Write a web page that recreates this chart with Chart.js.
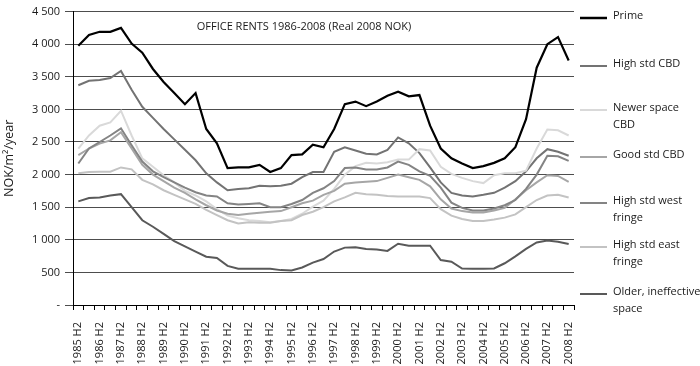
<!DOCTYPE html>
<html>
<head>
<meta charset="utf-8">
<title>Office rents 1986-2008</title>
<script src="https://cdn.jsdelivr.net/npm/chart.js@4.4.0/dist/chart.umd.min.js"></script>
<style>
    html, body { margin: 0; padding: 0; background: #fff; }
    #wrap { width: 700px; height: 366px; }
</style>
</head>
<body>
<div id="wrap"><canvas id="rentChart" width="700" height="366"></canvas></div>
<script>
// half-year periods, only the H2 ones get a label on the axis
const periods = [
    '1985 H2',
    '1986 H1', '1986 H2', '1987 H1', '1987 H2', '1988 H1', '1988 H2',
    '1989 H1', '1989 H2', '1990 H1', '1990 H2', '1991 H1', '1991 H2',
    '1992 H1', '1992 H2', '1993 H1', '1993 H2', '1994 H1', '1994 H2',
    '1995 H1', '1995 H2', '1996 H1', '1996 H2', '1997 H1', '1997 H2',
    '1998 H1', '1998 H2', '1999 H1', '1999 H2', '2000 H1', '2000 H2',
    '2001 H1', '2001 H2', '2002 H1', '2002 H2', '2003 H1', '2003 H2',
    '2004 H1', '2004 H2', '2005 H1', '2005 H2', '2006 H1', '2006 H2',
    '2007 H1', '2007 H2', '2008 H1', '2008 H2'
];

const chartTitle = 'OFFICE RENTS 1986-2008 (Real 2008 NOK)';
const yTitle = 'NOK/m\u00b2/year';
const yTicks = [0, 500, 1000, 1500, 2000, 2500, 3000, 3500, 4000, 4500];

const seriesNames = [
    ['Prime'],
    ['High std CBD'],
    ['Newer space', 'CBD'],
    ['Good std CBD'],
    ['High std west', 'fringe'],
    ['High std east', 'fringe'],
    ['Older, ineffective', 'space']
];

const prime = [3975, 4140, 4190, 4190, 4250, 4010, 3870, 3620, 3420, 3250,
    3080, 3250, 2700, 2480, 2100, 2110, 2110, 2150, 2040, 2100,
    2300, 2310, 2460, 2420, 2700, 3080, 3120, 3050, 3120, 3210,
    3270, 3200, 3220, 2750, 2400, 2250, 2170, 2100, 2130, 2180,
    2250, 2420, 2850, 3640, 4000, 4110, 3750];

const highStdCbd = [3370, 3440, 3450, 3480, 3590, 3300, 3040, 2870, 2700, 2540,
    2380, 2220, 2020, 1880, 1760, 1780, 1790, 1830, 1820, 1830,
    1860, 1960, 2040, 2040, 2350, 2420, 2370, 2320, 2310, 2380,
    2570, 2480, 2330, 2110, 1880, 1720, 1680, 1665, 1690, 1720,
    1800, 1900, 2050, 2250, 2390, 2350, 2290];

const newerSpaceCbd = [2400, 2600, 2750, 2800, 2980, 2600, 2250, 2120, 1990, 1880,
    1750, 1680, 1590, 1470, 1370, 1330, 1300, 1290, 1270, 1290,
    1320, 1400, 1510, 1600, 1780, 2000, 2130, 2180, 2170, 2190,
    2230, 2230, 2390, 2370, 2120, 2010, 1950, 1900, 1870, 1990,
    2020, 2020, 2060, 2400, 2690, 2680, 2600];

const goodStdCbd = [2300, 2400, 2475, 2525, 2650, 2400, 2150, 2000, 1900, 1800,
    1720, 1620, 1530, 1450, 1400, 1380, 1400, 1415, 1430, 1440,
    1500, 1560, 1600, 1690, 1750, 1860, 1880, 1890, 1900, 1950,
    2000, 1960, 1920, 1820, 1620, 1480, 1440, 1420, 1420, 1450,
    1490, 1620, 1760, 1880, 1990, 1980, 1890];

const westFringe = [2170, 2400, 2500, 2600, 2710, 2450, 2200, 2050, 1960, 1880,
    1800, 1730, 1680, 1665, 1560, 1540, 1550, 1560, 1500, 1500,
    1550, 1610, 1720, 1790, 1900, 2100, 2110, 2080, 2080, 2110,
    2200, 2150, 2050, 1980, 1800, 1570, 1490, 1450, 1450, 1480,
    1530, 1610, 1780, 2000, 2290, 2280, 2210];

const eastFringe = [2020, 2040, 2045, 2045, 2110, 2080, 1920, 1850, 1760, 1690,
    1620, 1550, 1460, 1380, 1300, 1250, 1270, 1260, 1260, 1290,
    1300, 1380, 1430, 1500, 1590, 1650, 1720, 1700, 1690, 1670,
    1665, 1665, 1665, 1640, 1470, 1370, 1320, 1290, 1290, 1310,
    1340, 1390, 1500, 1610, 1680, 1690, 1650];

const olderSpace = [1590, 1640, 1650, 1680, 1700, 1500, 1300, 1200, 1090, 980,
    900, 820, 740, 720, 600, 555, 555, 555, 555, 535,
    530, 575, 650, 705, 820, 880, 885, 860, 850, 830,
    940, 910, 910, 910, 690, 665, 560, 555, 555, 560,
    640, 745, 860, 960, 990, 970, 935];

const seriesValues = [prime, highStdCbd, newerSpaceCbd, goodStdCbd, westFringe, eastFringe, olderSpace];
const seriesColors = ['#000000', '#737373', '#d9d9d9', '#a6a6a6', '#848484', '#c3c3c3', '#595959'];

const fontFamily = '"Open Sans", "DejaVu Sans", sans-serif';

function spaced(value) {
    if (value === 0) return '-';
    return String(value).replace(/\B(?=(\d{3})+(?!\d))/g, ' ');
}

// title inside the plot and the legend at the right, drawn by hand
const decorPlugin = {
    id: 'decor',
    afterDraw: function(chart) {
        const ctx = chart.ctx;
        ctx.save();
        ctx.fillStyle = '#1a1a1a';
        ctx.font = '11px ' + fontFamily;
        ctx.textAlign = 'center';
        ctx.textBaseline = 'middle';
        ctx.fillText(chartTitle, 304, 27);

        const legendY = [16, 64, 108, 155, 201, 245, 292];
        ctx.textAlign = 'left';
        chart.data.datasets.forEach(function(ds, i) {
            const y = legendY[i];
            ctx.strokeStyle = ds.borderColor;
            ctx.lineWidth = i === 0 ? 2.5 : 2;
            ctx.beginPath();
            ctx.moveTo(580, y + 2);
            ctx.lineTo(607, y + 2);
            ctx.stroke();
            seriesNames[i].forEach(function(line, k) {
                ctx.fillText(line, 613, y + k * 17);
            });
        });
        ctx.restore();
    }
};

const datasets = seriesValues.map(function(values, i) {
    return {
        label: seriesNames[i].join(' '),
        data: values,
        borderColor: seriesColors[i],
        backgroundColor: seriesColors[i],
        borderWidth: i === 0 ? 2.2 : 2,
        pointRadius: 0,
        tension: 0,
        fill: false,
        order: seriesValues.length - i
    };
});

const ctx = document.getElementById('rentChart').getContext('2d');
const rentChart = new Chart(ctx, {
    type: 'line',
    data: {
        labels: periods,
        datasets: datasets
    },
    options: {
        responsive: false,
        animation: false,
        layout: {
            padding: { top: 8, right: 126, left: 0, bottom: 0 }
        },
        plugins: {
            legend: { display: false },
            tooltip: { enabled: false },
            title: { display: false }
        },
        scales: {
            x: {
                type: 'category',
                offset: true,
                afterFit: function(scale) { scale.height = 61; },
                grid: {
                    display: true,
                    offset: true,
                    drawOnChartArea: false,
                    drawTicks: true,
                    tickLength: 5,
                    color: '#000'
                },
                border: { display: true, color: '#000', width: 1 },
                ticks: {
                    autoSkip: false,
                    minRotation: 90,
                    maxRotation: 90,
                    padding: 12,
                    color: '#1a1a1a',
                    font: { family: fontFamily, size: 11 },
                    callback: function(value, index) {
                        const label = periods[index];
                        return label.endsWith('H2') ? label : '';
                    }
                }
            },
            y: {
                min: yTicks[0],
                max: yTicks[yTicks.length - 1],
                afterFit: function(scale) { scale.width = 73; },
                afterBuildTicks: function(scale) {
                    scale.ticks = yTicks.map(function(v) { return { value: v }; });
                },
                grid: {
                    color: '#4d4d4d',
                    lineWidth: 1,
                    drawTicks: true,
                    tickLength: 8
                },
                border: { display: true, color: '#000', width: 1 },
                title: {
                    display: true,
                    text: yTitle,
                    color: '#1a1a1a',
                    font: { family: fontFamily, size: 12.5 },
                    padding: { top: 2, bottom: 0 }
                },
                ticks: {
                    padding: 5,
                    color: '#1a1a1a',
                    font: { family: fontFamily, size: 11 },
                    callback: function(value) { return spaced(value); }
                }
            }
        }
    },
    plugins: [decorPlugin]
});
</script>
</body>
</html>
